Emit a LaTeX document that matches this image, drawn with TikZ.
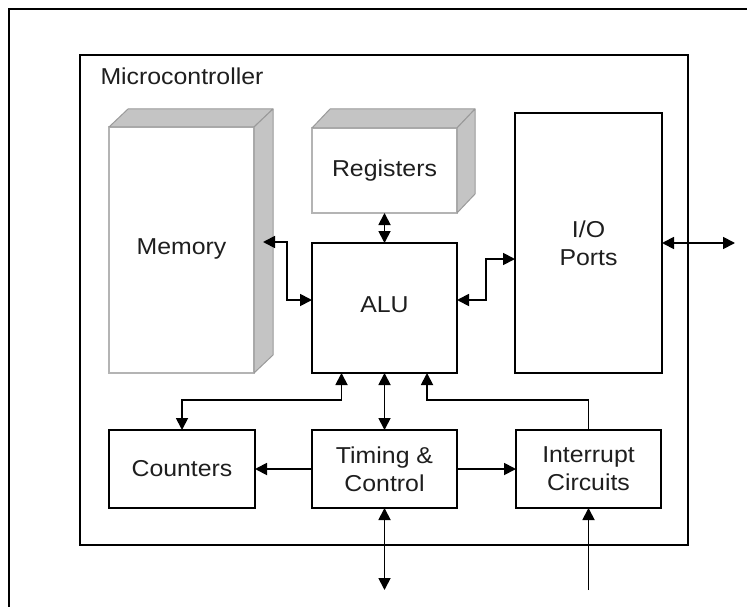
\documentclass[tikz,border=0pt]{standalone}
\usepackage{fontspec}
\setmainfont[FakeStretch=1.08]{Liberation Sans}
\usetikzlibrary{arrows.meta,calc}
\definecolor{sidefill}{HTML}{C4C4C4}
\definecolor{sidedraw}{HTML}{9A9A9A}
\definecolor{frontdraw}{HTML}{B4B4B4}
\definecolor{txt}{HTML}{1E1E1E}
\begin{document}
\begin{tikzpicture}[x=1pt,y=-1pt,
  lbl/.style={font=\fontsize{23}{28}\selectfont, text=txt, align=center},
  blk/.style={draw=black, line width=1.6pt, fill=white, inner sep=0pt, outer sep=0pt, anchor=north west, lbl},
  cube/.style={draw=frontdraw, line width=1.4pt, fill=white, inner sep=0pt, outer sep=0pt, anchor=north west, lbl},
  face/.style={fill=sidefill, draw=sidedraw, line width=1pt, line join=round},
  ahead/.tip={Triangle[length=12pt,width=12pt]},
  dbl/.style={ahead-ahead, line width=1.8pt},
  sgl/.style={-ahead, line width=1.8pt}]
\useasboundingbox (0,0) rectangle (747,607);
\fill[white] (0,0) rectangle (747,607);
% outer frame
\draw[line width=1.8pt] (9,607) -- (9,9) -- (747,9);
% microcontroller
\node[draw=black, line width=1.6pt, inner sep=0pt, outer sep=0pt, anchor=north west,
      minimum width=608pt, minimum height=490pt] (mc) at (80,55) {};
\node[lbl, anchor=west] (mctext) at (97,76) {Microcontroller};
% memory
\node[cube, minimum width=145pt, minimum height=246pt] (mem) at (109,127) {\raisebox{6pt}{Memory}};
\fill[face] (mem.north west) -- ++(19,-18) -- ($(mem.north east)+(19,-18)$) -- (mem.north east) -- cycle;
\fill[face] (mem.north east) -- ++(19,-18) -- ($(mem.south east)+(19,-18)$) -- (mem.south east) -- cycle;
% registers
\node[cube, minimum width=145pt, minimum height=85pt] (reg) at (312,128) {Registers};
\fill[face] (reg.north west) -- ++(18,-19) -- ($(reg.north east)+(18,-19)$) -- (reg.north east) -- cycle;
\fill[face] (reg.north east) -- ++(18,-19) -- ($(reg.south east)+(18,-19)$) -- (reg.south east) -- cycle;
% blocks
\node[blk, minimum width=145pt, minimum height=130pt] (alu) at (312,243) {\raisebox{6pt}{ALU}};
\node[blk, minimum width=147pt, minimum height=260pt] (io) at (515,113) {I/O\\Ports};
\node[blk, minimum width=146pt, minimum height=78pt] (cnt) at (109,430) {Counters};
\node[blk, minimum width=145pt, minimum height=78pt] (tim) at (312,430) {Timing \&\\Control};
\node[blk, minimum width=145pt, minimum height=78pt] (int) at (516,430) {Interrupt\\Circuits};
% external end points
\coordinate (ioext) at ($(io.east)+(73,0)$);
\coordinate (timext) at ($(tim.south)+(0,82)$);
\coordinate (intext) at ($(int.south)+(0,82)$);
% connectors
\draw[dbl] ([xshift=9pt,yshift=8pt]mem.east) -- ++(24,0) |- ([yshift=8pt]alu.west);
\draw[dbl] (reg.south) -- (alu.north);
\draw[dbl] ([yshift=8pt]alu.east) -- ++(29,0) |- ([yshift=-16pt]io.west);
\draw[dbl] (io.east) -- (ioext);
\draw[dbl] ([xshift=-43pt]alu.south) -- ++(0,27) -| (cnt.north);
\draw[dbl] (alu.south) -- (tim.north);
\draw[sgl] (int.north) -- ++(0,-30) -| ([xshift=42.5pt]alu.south);
\draw[sgl] (tim.west) -- (cnt.east);
\draw[sgl] (tim.east) -- (int.west);
\draw[dbl] (tim.south) -- (timext);
\draw[sgl] (intext) -- (int.south);
\end{tikzpicture}
\end{document}
